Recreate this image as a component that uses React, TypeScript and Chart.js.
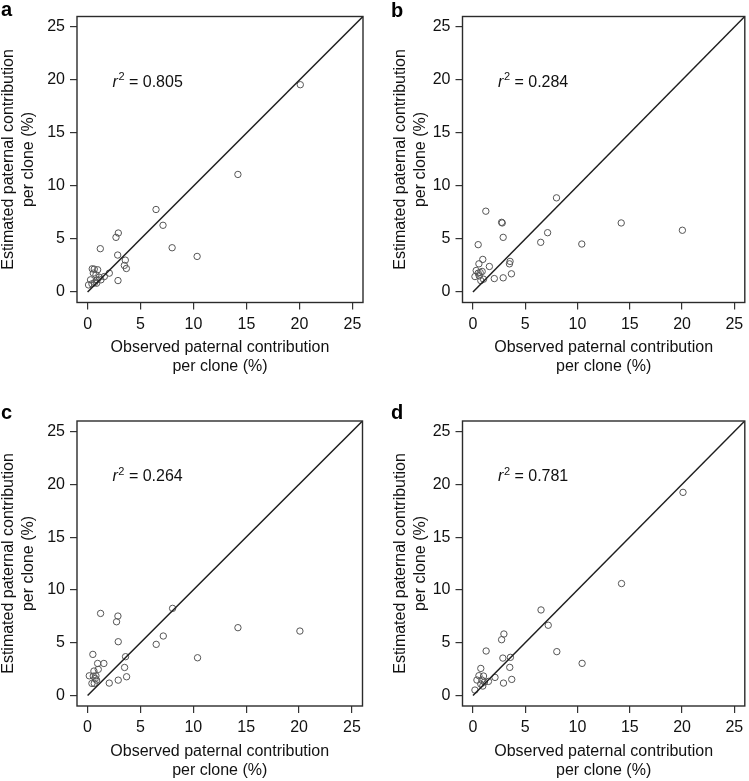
import React, { useEffect, useRef } from 'react';
import { Chart, registerables } from 'chart.js';

Chart.register(...registerables);

// ---- data ----
const TICKS = [0, 5, 10, 15, 20, 25];
const AXIS_MIN = -1;
const AXIS_MAX = 26;
const DIAG = [0, 26];
const X_TITLE = ['Observed paternal contribution', 'per clone (%)'];
const Y_TITLE = ['Estimated paternal contribution', 'per clone (%)'];
const PANEL_LETTERS = ['a', 'b', 'c', 'd'];
const R2_VALUES = ['0.805', '0.284', '0.264', '0.781'];

const A_OBS = [20.08, 14.19, 6.46, 7.12, 7.98, 10.34, 2.9, 2.68, 1.2, 2.84, 3.56, 3.47, 3.66, 2.87, 2.05, 1.58, 0.44, 0.63, 0.95, 0.54, 0.79, 1.1, 0.91, 0.66, 0.28, 0.09, 0.41, 0.85, 1.26];
const A_EST = [19.56, 11.09, 7.78, 6.29, 4.17, 3.35, 5.56, 5.15, 4.08, 3.48, 3.0, 2.5, 2.21, 1.07, 1.77, 1.45, 2.18, 2.15, 2.09, 1.77, 1.61, 1.39, 1.14, 0.88, 1.14, 0.66, 0.76, 0.82, 1.14];

const B_OBS = [20.03, 14.18, 7.99, 7.14, 6.48, 10.41, 1.23, 2.8, 2.74, 2.89, 0.5, 3.55, 3.49, 3.68, 2.89, 2.04, 1.57, 0.94, 0.57, 0.31, 0.69, 0.88, 0.19, 0.6, 0.75, 1.01, 0.5];
const B_EST = [5.82, 6.51, 8.88, 5.59, 4.68, 4.52, 7.62, 6.51, 6.57, 5.15, 4.46, 2.88, 2.65, 1.71, 1.33, 1.26, 2.4, 3.07, 2.65, 2.02, 1.83, 1.93, 1.45, 1.52, 1.07, 1.2, 1.77];

const C_OBS = [20.08, 14.22, 8.04, 7.16, 6.49, 10.4, 1.23, 2.87, 2.74, 2.9, 0.5, 3.59, 3.5, 3.69, 2.9, 2.05, 1.54, 0.95, 1.01, 0.6, 0.16, 0.54, 0.73, 0.79, 0.41, 0.63, 0.85];
const C_EST = [6.1, 6.42, 8.25, 5.63, 4.84, 3.57, 7.77, 7.52, 6.98, 5.09, 3.89, 3.67, 2.65, 1.77, 1.45, 1.17, 3.03, 3.03, 2.47, 2.31, 1.86, 1.83, 1.61, 1.86, 1.14, 1.14, 1.45];

const D_OBS = [20.09, 14.21, 6.51, 7.2, 8.02, 10.44, 2.96, 2.74, 1.26, 2.86, 3.58, 3.52, 3.71, 2.92, 2.11, 0.75, 0.57, 1.01, 0.38, 0.85, 1.1, 0.75, 0.94, 0.19, 1.48];
const D_EST = [19.24, 10.6, 8.1, 6.65, 4.15, 3.04, 5.82, 5.28, 4.21, 3.54, 3.61, 2.66, 1.52, 1.17, 1.71, 2.56, 1.87, 1.84, 1.46, 1.46, 1.27, 1.08, 0.89, 0.51, 1.33];

// r^2 label anchor (data coordinates, left edge / vertical centre)
const R2_X = [2.36, 2.4, 2.36, 2.4];
const R2_Y = [19.8, 19.8, 20.7, 20.7];

const SERIES = [
  { obs: A_OBS, est: A_EST },
  { obs: B_OBS, est: B_EST },
  { obs: C_OBS, est: C_EST },
  { obs: D_OBS, est: D_EST },
];

// ---- layout (page pixels) ----
const FONT = '"Liberation Sans", Arial, Helvetica, sans-serif';
const LH = 1.2;
const FS = 16;

const LAYOUT = [
  { canvas: { x: 0, y: 0, w: 380, h: 392 }, box: { l: 77, t: 16.5, r: 363, b: 302.5 }, yTitleX: 9, xTitleY: 367, letter: { x: 1, y: 16 } },
  { canvas: { x: 391, y: 0, w: 358, h: 392 }, box: { l: 462.5, t: 16.5, r: 747, b: 302.5 }, yTitleX: 401, xTitleY: 367, letter: { x: 391, y: 17 } },
  { canvas: { x: 0, y: 395, w: 380, h: 386 }, box: { l: 77, t: 421, r: 362.5, b: 706 }, yTitleX: 9, xTitleY: 770.5, letter: { x: 1, y: 418.5 } },
  { canvas: { x: 391, y: 395, w: 358, h: 386 }, box: { l: 462.5, t: 421, r: 747, b: 706 }, yTitleX: 401, xTitleY: 770.5, letter: { x: 391, y: 418.5 } },
];

const decorPlugin = {
  id: 'panelDecor',
  afterDraw(chart: any, _args: any, opts: any) {
    const { ctx, chartArea: ca, scales } = chart;
    ctx.save();
    ctx.strokeStyle = '#2b2b2b';
    ctx.lineWidth = 1.4;
    ctx.strokeRect(ca.left, ca.top, ca.right - ca.left, ca.bottom - ca.top);

    ctx.fillStyle = '#000';
    ctx.textAlign = 'left';
    ctx.textBaseline = 'alphabetic';
    ctx.font = `bold 20px ${FONT}`;
    ctx.fillText(opts.letter, opts.letterX, opts.letterY);

    const x = scales.x.getPixelForValue(opts.r2x);
    const y = scales.y.getPixelForValue(opts.r2y);
    ctx.fillStyle = '#111';
    ctx.textBaseline = 'middle';
    ctx.font = `italic ${FS}px ${FONT}`;
    ctx.fillText('r', x, y);
    let cx = x + ctx.measureText('r').width + 0.5;
    ctx.font = `11px ${FONT}`;
    ctx.fillText('2', cx, y - 5);
    cx += ctx.measureText('2').width;
    ctx.font = `${FS}px ${FONT}`;
    ctx.fillText(' = ' + opts.r2, cx, y);
    ctx.restore();
  },
};

function Panel({ idx }: { idx: number }) {
  const ref = useRef<HTMLCanvasElement | null>(null);
  const L = LAYOUT[idx];
  useEffect(() => {
    const canvas = ref.current;
    if (!canvas) return;
    const { canvas: c, box } = L;
    const yAxisW = box.l - c.x;
    const xAxisH = c.y + c.h - box.b;
    const yTitlePad = L.yTitleX - c.x - (FS * LH) / 2;
    const xTitlePad = c.y + c.h - L.xTitleY - (FS * LH) / 2;
    const s = SERIES[idx];
    const points = s.obs.map((v, i) => ({ x: v, y: s.est[i] }));
    const diag = [{ x: DIAG[0], y: DIAG[0] }, { x: DIAG[1], y: DIAG[1] }];

    const setTicks = (scale: any) => {
      scale.ticks = TICKS.map((v) => ({ value: v }));
    };
    const tickFont = { family: FONT, size: FS };
    const titleFont = { family: FONT, size: FS, lineHeight: LH };

    const chart = new Chart(canvas, {
      type: 'scatter',
      data: {
        datasets: [
          {
            type: 'line',
            data: diag,
            borderColor: '#1e1e1e',
            borderWidth: 1.5,
            pointRadius: 0,
            fill: false,
            tension: 0,
          } as any,
          {
            type: 'scatter',
            data: points,
            pointRadius: 3.2,
            pointHoverRadius: 3.2,
            pointBorderWidth: 1,
            borderColor: '#555',
            backgroundColor: 'rgba(0,0,0,0)',
          } as any,
        ],
      },
      options: {
        responsive: false,
        animation: false,
        events: [],
        layout: {
          padding: { left: 0, top: box.t - c.y, right: c.x + c.w - box.r, bottom: 0 },
        },
        plugins: {
          legend: { display: false },
          tooltip: { enabled: false },
          panelDecor: {
            letter: PANEL_LETTERS[idx],
            letterX: L.letter.x - c.x,
            letterY: L.letter.y - c.y,
            r2: R2_VALUES[idx],
            r2x: R2_X[idx],
            r2y: R2_Y[idx],
          },
        } as any,
        scales: {
          x: {
            type: 'linear',
            min: AXIS_MIN,
            max: AXIS_MAX,
            afterBuildTicks: setTicks,
            afterFit: (sc: any) => {
              sc.height = xAxisH;
            },
            ticks: { font: tickFont, color: '#111', padding: 5, maxRotation: 0, autoSkip: false },
            grid: { drawOnChartArea: false, drawTicks: true, tickLength: 7, color: '#333', lineWidth: 1.2 },
            border: { display: false },
            title: { display: true, text: X_TITLE, font: titleFont, color: '#111', padding: { top: 0, bottom: xTitlePad } },
          },
          y: {
            type: 'linear',
            min: AXIS_MIN,
            max: AXIS_MAX,
            afterBuildTicks: setTicks,
            afterFit: (sc: any) => {
              sc.width = yAxisW;
            },
            ticks: { font: tickFont, color: '#111', padding: 5, autoSkip: false },
            grid: { drawOnChartArea: false, drawTicks: true, tickLength: 7, color: '#333', lineWidth: 1.2 },
            border: { display: false },
            title: { display: true, text: Y_TITLE, font: titleFont, color: '#111', padding: { top: yTitlePad, bottom: 0 } },
          },
        },
      } as any,
      plugins: [decorPlugin],
    });
    return () => chart.destroy();
  }, [idx]);

  return (
    <canvas
      ref={ref}
      width={L.canvas.w}
      height={L.canvas.h}
      style={{ position: 'absolute', left: L.canvas.x, top: L.canvas.y, width: L.canvas.w, height: L.canvas.h }}
    />
  );
}

export default function App() {
  return (
    <div style={{ position: 'absolute', left: 0, top: 0, width: 749, height: 781, background: '#fff', overflow: 'hidden' }}>
      {[0, 1, 2, 3].map((i) => (
        <Panel key={i} idx={i} />
      ))}
    </div>
  );
}
